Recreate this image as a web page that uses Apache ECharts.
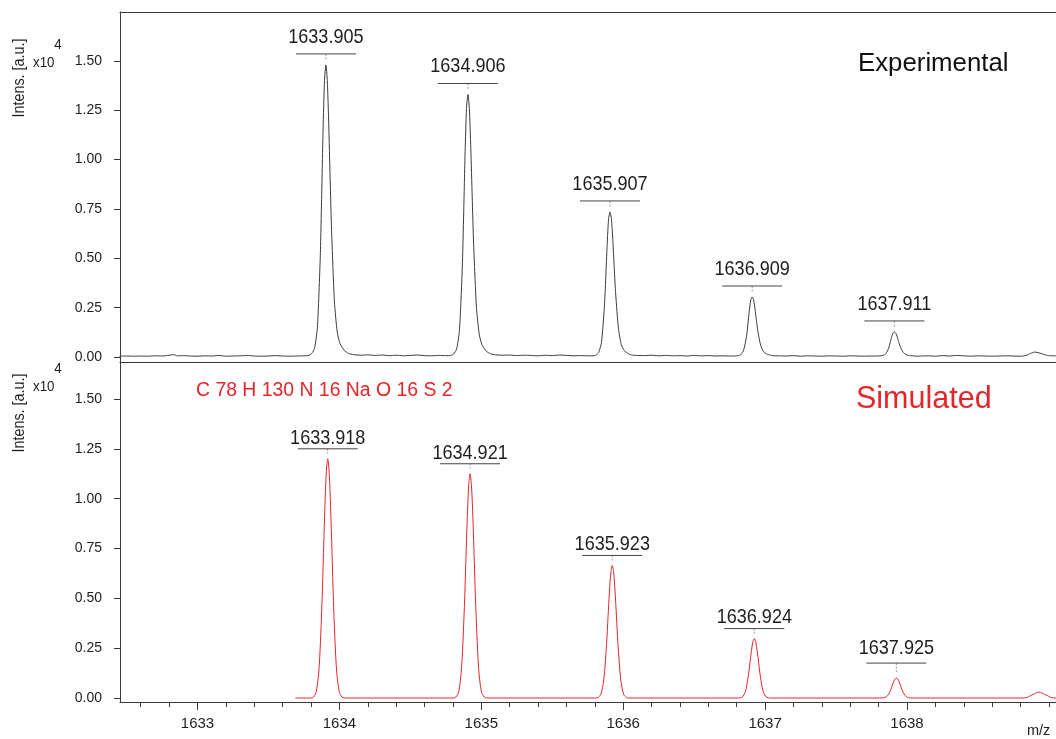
<!DOCTYPE html>
<html>
<head>
<meta charset="utf-8">
<script src="https://cdn.jsdelivr.net/npm/echarts@6/dist/echarts.min.js"></script>
<style>
  html, body { margin: 0; padding: 0; background: #fff; }
  #chart { width: 1056px; height: 739px; }
</style>
</head>
<body>
<div id="chart"></div>
<script>
// Measured isotope pattern, m/z vs intensity (x10^4 a.u.)
const experimentalTrace = [
  [1632.45, 0.004], [1632.50, 0.005], [1632.55, 0.004], [1632.60, 0.005], [1632.65, 0.004],
  [1632.70, 0.006], [1632.75, 0.005], [1632.80, 0.009], [1632.83, 0.012], [1632.86, 0.006],
  [1632.90, 0.007], [1632.95, 0.005], [1633.00, 0.004], [1633.05, 0.006], [1633.10, 0.005],
  [1633.15, 0.008], [1633.20, 0.004], [1633.25, 0.005], [1633.30, 0.006], [1633.35, 0.008],
  [1633.40, 0.005], [1633.45, 0.004], [1633.50, 0.005], [1633.55, 0.007], [1633.60, 0.005],
  [1633.65, 0.004], [1633.70, 0.005], [1633.75, 0.006],
  [1633.785, 0.008], [1633.805, 0.018], [1633.825, 0.044], [1633.845, 0.148], [1633.865, 0.50],
  [1633.875, 0.81], [1633.885, 1.15], [1633.895, 1.40], [1633.905, 1.48], [1633.915, 1.40],
  [1633.925, 1.18], [1633.935, 0.90], [1633.945, 0.64], [1633.965, 0.28], [1633.985, 0.126],
  [1634.005, 0.067], [1634.035, 0.033], [1634.065, 0.018],
  [1634.10, 0.012], [1634.15, 0.009], [1634.20, 0.011], [1634.25, 0.008], [1634.30, 0.010],
  [1634.35, 0.007], [1634.40, 0.009], [1634.45, 0.006], [1634.50, 0.008], [1634.55, 0.010],
  [1634.60, 0.007], [1634.65, 0.006], [1634.70, 0.008], [1634.75, 0.007],
  [1634.786, 0.008], [1634.806, 0.016], [1634.826, 0.040], [1634.846, 0.133], [1634.866, 0.45],
  [1634.876, 0.73], [1634.886, 1.04], [1634.896, 1.26], [1634.906, 1.33], [1634.916, 1.26],
  [1634.926, 1.06], [1634.936, 0.81], [1634.946, 0.57], [1634.966, 0.25], [1634.986, 0.113],
  [1635.006, 0.060], [1635.036, 0.029], [1635.066, 0.016],
  [1635.10, 0.011], [1635.15, 0.009], [1635.20, 0.010], [1635.25, 0.007], [1635.30, 0.009],
  [1635.35, 0.008], [1635.40, 0.006], [1635.45, 0.009], [1635.50, 0.007], [1635.55, 0.010],
  [1635.60, 0.008], [1635.65, 0.006], [1635.70, 0.007], [1635.75, 0.006],
  [1635.787, 0.006], [1635.807, 0.009], [1635.827, 0.022], [1635.847, 0.074], [1635.867, 0.25],
  [1635.877, 0.40], [1635.887, 0.57], [1635.897, 0.70], [1635.907, 0.735], [1635.917, 0.70],
  [1635.927, 0.59], [1635.937, 0.45], [1635.947, 0.32], [1635.967, 0.14], [1635.987, 0.062],
  [1636.007, 0.033], [1636.037, 0.016], [1636.067, 0.009],
  [1636.10, 0.008], [1636.15, 0.007], [1636.20, 0.009], [1636.25, 0.006], [1636.30, 0.008],
  [1636.35, 0.006], [1636.40, 0.007], [1636.45, 0.005], [1636.50, 0.008], [1636.55, 0.006],
  [1636.60, 0.007], [1636.65, 0.005], [1636.70, 0.006], [1636.75, 0.005],
  [1636.789, 0.005], [1636.809, 0.007], [1636.829, 0.012], [1636.849, 0.035], [1636.869, 0.103],
  [1636.879, 0.167], [1636.889, 0.237], [1636.899, 0.289], [1636.909, 0.304], [1636.919, 0.289],
  [1636.929, 0.243], [1636.939, 0.185], [1636.949, 0.131], [1636.969, 0.058], [1636.989, 0.028],
  [1637.009, 0.016], [1637.039, 0.009], [1637.069, 0.006],
  [1637.10, 0.006], [1637.15, 0.005], [1637.20, 0.007], [1637.25, 0.004], [1637.30, 0.006],
  [1637.35, 0.005], [1637.40, 0.004], [1637.45, 0.006], [1637.50, 0.005], [1637.55, 0.004],
  [1637.60, 0.006], [1637.65, 0.005], [1637.70, 0.004], [1637.75, 0.005],
  [1637.791, 0.005], [1637.811, 0.006], [1637.831, 0.008], [1637.851, 0.017], [1637.871, 0.045],
  [1637.881, 0.071], [1637.891, 0.100], [1637.901, 0.121], [1637.911, 0.127], [1637.921, 0.121],
  [1637.931, 0.102], [1637.941, 0.078], [1637.951, 0.056], [1637.971, 0.026], [1637.991, 0.013],
  [1638.011, 0.008], [1638.041, 0.006], [1638.071, 0.004],
  [1638.10, 0.005], [1638.15, 0.006], [1638.20, 0.004], [1638.25, 0.007], [1638.30, 0.005],
  [1638.35, 0.008], [1638.40, 0.006], [1638.45, 0.004], [1638.50, 0.006], [1638.55, 0.005],
  [1638.60, 0.004], [1638.65, 0.005], [1638.70, 0.006], [1638.75, 0.005], [1638.80, 0.004],
  [1638.84, 0.008], [1638.87, 0.018], [1638.90, 0.025], [1638.93, 0.021], [1638.96, 0.014],
  [1638.99, 0.008], [1639.02, 0.006], [1639.05, 0.006]
];

// Theoretical pattern for C78H130N16NaO16S2
const simulatedTrace = [
  [1633.69, 0], [1633.798, 0], [1633.818, 0.005], [1633.838, 0.034], [1633.858, 0.162],
  [1633.878, 0.49], [1633.888, 0.73], [1633.898, 0.96], [1633.908, 1.135], [1633.918, 1.20],
  [1633.928, 1.135], [1633.938, 0.96], [1633.948, 0.73], [1633.958, 0.49], [1633.978, 0.162],
  [1633.998, 0.034], [1634.018, 0.005], [1634.038, 0],
  [1634.801, 0], [1634.821, 0.005], [1634.841, 0.031], [1634.861, 0.152], [1634.881, 0.46],
  [1634.891, 0.68], [1634.901, 0.90], [1634.911, 1.064], [1634.921, 1.125], [1634.931, 1.064],
  [1634.941, 0.90], [1634.951, 0.68], [1634.961, 0.46], [1634.981, 0.152], [1635.001, 0.031],
  [1635.021, 0.005], [1635.041, 0],
  [1635.803, 0], [1635.823, 0.003], [1635.843, 0.019], [1635.863, 0.090], [1635.883, 0.273],
  [1635.893, 0.404], [1635.903, 0.532], [1635.913, 0.629], [1635.923, 0.665], [1635.933, 0.629],
  [1635.943, 0.532], [1635.953, 0.404], [1635.963, 0.273], [1635.983, 0.090], [1636.003, 0.019],
  [1636.023, 0.003], [1636.043, 0],
  [1636.804, 0], [1636.824, 0.001], [1636.844, 0.008], [1636.864, 0.040], [1636.884, 0.122],
  [1636.894, 0.181], [1636.904, 0.238], [1636.914, 0.282], [1636.924, 0.298], [1636.934, 0.282],
  [1636.944, 0.238], [1636.954, 0.181], [1636.964, 0.122], [1636.984, 0.040], [1637.004, 0.008],
  [1637.024, 0.001], [1637.044, 0],
  [1637.805, 0], [1637.825, 0.0004], [1637.845, 0.003], [1637.865, 0.0135], [1637.885, 0.041],
  [1637.895, 0.061], [1637.905, 0.080], [1637.915, 0.095], [1637.925, 0.100], [1637.935, 0.095],
  [1637.945, 0.080], [1637.955, 0.061], [1637.965, 0.041], [1637.985, 0.0135], [1638.005, 0.003],
  [1638.025, 0.0004], [1638.045, 0],
  [1638.81, 0], [1638.83, 0.001], [1638.85, 0.004], [1638.87, 0.012], [1638.89, 0.018],
  [1638.91, 0.026], [1638.93, 0.030], [1638.95, 0.026], [1638.97, 0.018], [1638.99, 0.012],
  [1639.01, 0.004], [1639.03, 0.001], [1639.05, 0]
];

// Annotated isotope peaks [m/z, apex intensity]
const experimentalPeaks = [[1633.905, 1.48], [1634.906, 1.33], [1635.907, 0.735], [1636.909, 0.304], [1637.911, 0.127]];
const experimentalPeakLabels = ['1633.905', '1634.906', '1635.907', '1636.909', '1637.911'];
const simulatedPeaks = [[1633.918, 1.20], [1634.921, 1.125], [1635.923, 0.665], [1636.924, 0.298], [1637.925, 0.100]];
const simulatedPeakLabels = ['1633.918', '1634.921', '1635.923', '1636.924', '1637.925'];

// Axis tick labels
const mzTickLabels = [1633, 1634, 1635, 1636, 1637, 1638];
const intensityTickLabels = [0, 0.25, 0.5, 0.75, 1.0, 1.25, 1.5];

const FONT = '"Liberation Sans", Arial, Helvetica, sans-serif';
const AXIS_COLOR = '#3a3a3a';
const TEXT_COLOR = '#1e1e1e';
const RED = '#e4262a';
const MZ_MIN = 1632.454, MZ_MAX = 1639.05;
// the spectrum software uses a slightly condensed face; emulate it by squeezing text horizontally
const SQUEEZE = 0.86;

function steps(from, to, step) {
  const out = [];
  for (let v = from; v <= to + 1e-9; v += step) out.push(Math.round(v * 1000) / 1000);
  return out;
}

function intensityAxes(gridIndex, min, max, minorTop) {
  return [
    {
      type: 'value', gridIndex, min, max,
      axisLine: { show: true, lineStyle: { color: AXIS_COLOR, width: 1 } },
      axisTick: { show: true, length: 6, customValues: intensityTickLabels, lineStyle: { color: AXIS_COLOR } },
      axisLabel: {
        show: true, customValues: intensityTickLabels, margin: 18,
        color: TEXT_COLOR, fontFamily: FONT, fontSize: 14,
        formatter: v => v.toFixed(2)
      },
      splitLine: { show: false }
    },
    {
      type: 'value', gridIndex, min, max,
      axisLine: { show: false },
      axisTick: { show: true, length: 3.5, customValues: steps(0, minorTop, 0.05), lineStyle: { color: AXIS_COLOR } },
      axisLabel: { show: false },
      splitLine: { show: false }
    }
  ];
}

// Peak annotation: value text over a short bar, with a dotted lead to the apex
function peakLabelRenderer(labels, barGap, textGap, overrides) {
  return function (params, api) {
    const p = api.coord([api.value(0), api.value(1)]);
    const o = overrides[params.dataIndex] || {};
    const bg = o.barGap != null ? o.barGap : barGap;
    const tg = o.textGap != null ? o.textGap : textGap;
    return {
      type: 'group',
      children: [
        { type: 'line', shape: { x1: p[0], y1: p[1] - bg, x2: p[0], y2: p[1] - 5 },
          style: { stroke: '#9a9a9a', lineWidth: 1, lineDash: [2, 1.5] } },
        { type: 'line', shape: { x1: p[0] - 30, y1: p[1] - bg, x2: p[0] + 30, y2: p[1] - bg },
          style: { stroke: '#444', lineWidth: 1 } },
        { type: 'text', x: p[0], y: p[1] - tg, scaleX: SQUEEZE,
          style: { text: labels[params.dataIndex], fill: TEXT_COLOR, font: '21px ' + FONT,
                   align: 'center', verticalAlign: 'middle' } }
      ]
    };
  };
}

function label(text, x, y, size, opts) {
  const o = opts || {};
  return {
    type: 'text', x, y, rotation: o.rotation || 0, scaleX: o.scaleX || 1,
    style: { text, font: size + 'px ' + FONT, fill: o.fill || TEXT_COLOR,
             align: o.align || 'left', verticalAlign: 'middle' }
  };
}

const chart = echarts.init(document.getElementById('chart'), null, { renderer: 'canvas' });

chart.setOption({
  animation: false,
  backgroundColor: '#fff',
  grid: [
    { left: 120, right: 0, top: 12, height: 350, containLabel: false },
    { left: 120, right: 0, top: 362, height: 340, containLabel: false }
  ],
  xAxis: [
    { type: 'value', gridIndex: 0, min: MZ_MIN, max: MZ_MAX, position: 'bottom',
      axisLine: { show: true, onZero: false, lineStyle: { color: AXIS_COLOR, width: 1 } },
      axisTick: { show: false }, axisLabel: { show: false }, splitLine: { show: false } },
    { type: 'value', gridIndex: 0, min: MZ_MIN, max: MZ_MAX, position: 'top',
      axisLine: { show: true, onZero: false, lineStyle: { color: AXIS_COLOR, width: 1 } },
      axisTick: { show: false }, axisLabel: { show: false }, splitLine: { show: false } },
    { type: 'value', gridIndex: 1, min: MZ_MIN, max: MZ_MAX, position: 'bottom',
      axisLine: { show: true, onZero: false, lineStyle: { color: AXIS_COLOR, width: 1 } },
      axisTick: { show: true, length: 8, customValues: mzTickLabels, lineStyle: { color: AXIS_COLOR } },
      axisLabel: { show: true, customValues: mzTickLabels, margin: 14, color: TEXT_COLOR,
                   fontFamily: FONT, fontSize: 15, formatter: v => String(Math.round(v)) },
      splitLine: { show: false } },
    { type: 'value', gridIndex: 1, min: MZ_MIN, max: MZ_MAX, position: 'bottom',
      axisLine: { show: false, onZero: false },
      axisTick: { show: true, length: 5, customValues: steps(1632.6, 1639.0, 0.2), lineStyle: { color: AXIS_COLOR } },
      axisLabel: { show: false }, splitLine: { show: false } }
  ],
  yAxis: [
    ...intensityAxes(0, -0.0253, 1.748, 1.70),
    ...intensityAxes(1, -0.020, 1.6856, 1.65)
  ],
  series: [
    { name: 'Experimental', type: 'line', xAxisIndex: 0, yAxisIndex: 0,
      data: experimentalTrace, showSymbol: false, smooth: 0.2,
      lineStyle: { color: '#3c3c3c', width: 1 }, z: 3 },
    { name: 'Simulated', type: 'line', xAxisIndex: 2, yAxisIndex: 2,
      data: simulatedTrace, showSymbol: false, smooth: 0.3,
      lineStyle: { color: RED, width: 1 }, z: 3 },
    { type: 'custom', xAxisIndex: 0, yAxisIndex: 0, data: experimentalPeaks,
      renderItem: peakLabelRenderer(experimentalPeakLabels, 11, 28, {}), z: 4 },
    { type: 'custom', xAxisIndex: 2, yAxisIndex: 2, data: simulatedPeaks,
      renderItem: peakLabelRenderer(simulatedPeakLabels, 10, 21, { 4: { barGap: 15, textGap: 30 } }), z: 4 }
  ],
  graphic: [
    label('Intens. [a.u.]', 20, 78, 16, { rotation: Math.PI / 2, align: 'center', scaleX: 0.9 }),
    label('x10', 33, 63, 15.5, { scaleX: SQUEEZE }),
    label('4', 58, 45, 15.5, { align: 'center', scaleX: SQUEEZE }),
    label('Intens. [a.u.]', 20, 413, 16, { rotation: Math.PI / 2, align: 'center', scaleX: 0.9 }),
    label('x10', 33, 387, 15.5, { scaleX: SQUEEZE }),
    label('4', 58, 369, 15.5, { align: 'center', scaleX: SQUEEZE }),
    label('Experimental', 858, 64, 25.8, { fill: '#111' }),
    label('Simulated', 856, 400, 30.5, { fill: RED }),
    label('C 78 H 130 N 16 Na O 16 S 2', 196, 391, 19.4, { fill: RED }),
    label('m/z', 1027, 731, 14.5)
  ]
});
</script>
</body>
</html>
